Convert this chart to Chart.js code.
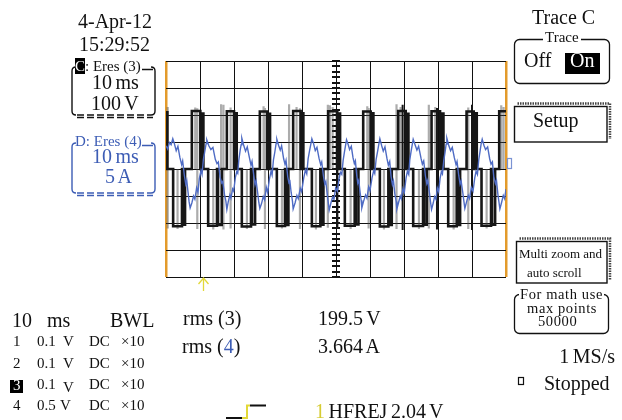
<!DOCTYPE html>
<html>
<head>
<meta charset="utf-8">
<script src="https://cdn.jsdelivr.net/npm/chart.js@4.4.1/dist/chart.umd.min.js"></script>
<style>
html, body { margin: 0; padding: 0; background: #fff; }
#wrap { position: relative; width: 622px; height: 420px; overflow: hidden; font-family: 'Liberation Serif', serif; color: #111; }
#scope { position: absolute; left: 0; top: 0; }
.t { position: absolute; white-space: nowrap; line-height: 1; font-size: 20px; }
.s { font-size: 15px; }
.m { font-size: 14.5px; letter-spacing: 0.6px; }
.blue { color: #3d5db5; }
.inv { background: #000; color: #fff; }
.ws { word-spacing: -1.5px; }
</style>
</head>
<body>
<div id="wrap">
  <canvas id="scope" width="622" height="420"></canvas>

  <div class="t" style="left:78px;top:11px">4-Apr-12</div>
  <div class="t" style="left:79px;top:34px">15:29:52</div>

  <div class="t s" style="left:75px;top:59px"><span class="inv">C</span>: Eres (3)</div>
  <div class="t ws" style="left:92px;top:72px">10 ms</div>
  <div class="t ws" style="left:91px;top:93px">100 V</div>

  <div class="t s blue" style="left:75px;top:134px">D: Eres (4)</div>
  <div class="t ws blue" style="left:92px;top:146px">10 ms</div>
  <div class="t ws blue" style="left:105px;top:166px">5 A</div>

  <div class="t" style="left:532px;top:7px">Trace C</div>
  <div class="t s" style="left:543px;top:30px;background:#fff;padding:0 2px">Trace</div>
  <div class="t" style="left:524px;top:50px">Off</div>
  <div style="position:absolute;left:565px;top:53px;width:35px;height:21px;background:#000"></div>
  <div class="t" style="left:570px;top:50px;color:#fff">On</div>
  <div class="t" style="left:533px;top:110px">Setup</div>
  <div class="t" style="left:519px;top:247px;font-size:13px">Multi zoom and</div>
  <div class="t" style="left:527px;top:266px;font-size:13px">auto scroll</div>
  <div class="t m" style="left:519px;top:287px;background:#fff;padding:0 1px">For math use</div>
  <div class="t m" style="left:527px;top:301px">max points</div>
  <div class="t m" style="left:538px;top:314px">50000</div>
  <div class="t ws" style="right:7px;top:346px">1 MS/s</div>
  <div class="t" style="left:544px;top:373px">Stopped</div>

  <div class="t" style="left:12px;top:310px">10</div>
  <div class="t" style="left:47px;top:310px">ms</div>
  <div class="t" style="left:110px;top:310px">BWL</div>

  <div class="t s" style="left:13px;top:334px">1</div>
  <div class="t s" style="left:37px;top:334px">0.1</div>
  <div class="t s" style="left:63px;top:334px">V</div>
  <div class="t s" style="left:89px;top:334px">DC</div>
  <div class="t s" style="left:121px;top:334px">×10</div>

  <div class="t s" style="left:13px;top:356px">2</div>
  <div class="t s" style="left:37px;top:356px">0.1</div>
  <div class="t s" style="left:63px;top:356px">V</div>
  <div class="t s" style="left:89px;top:356px">DC</div>
  <div class="t s" style="left:121px;top:356px">×10</div>

  <div style="position:absolute;left:10px;top:380px;width:13px;height:13px;background:#000"></div>
  <div class="t s" style="left:13px;top:378px;color:#fff">3</div>
  <div class="t s" style="left:37px;top:377px">0.1</div>
  <div class="t s" style="left:63px;top:380px">V</div>
  <div class="t s" style="left:89px;top:377px">DC</div>
  <div class="t s" style="left:121px;top:377px">×10</div>

  <div class="t s" style="left:13px;top:398px">4</div>
  <div class="t s" style="left:37px;top:398px">0.5</div>
  <div class="t s" style="left:60px;top:398px">V</div>
  <div class="t s" style="left:89px;top:398px">DC</div>
  <div class="t s" style="left:121px;top:398px">×10</div>

  <div class="t" style="left:183px;top:308px">rms (3)</div>
  <div class="t" style="left:182px;top:336px">rms (<span class="blue">4</span>)</div>
  <div class="t ws" style="left:318px;top:308px">199.5 V</div>
  <div class="t ws" style="left:318px;top:336px">3.664 A</div>
  <div class="t ws" style="left:315px;top:401px"><span style="color:#d6cc34">1</span> HFREJ 2.04 V</div>
</div>

<script>
// channel 3 (voltage, V) - level changes, held until next point
var voltTime = [0, 0.4,
  2.1, 4.7, 5.0, 5.6, 7.6, 10.1, 10.4, 11.0,
  12.4, 15.0, 15.3, 16.4, 17.9, 20.0, 20.3, 20.8,
  22.3, 25.0, 25.3, 26.2, 27.6, 29.8, 30.1, 30.6,
  32.6, 35.0, 35.3, 36.0, 37.4, 39.6, 39.9, 40.4,
  42.9, 45.4, 45.7, 46.3, 47.7, 50.3, 50.6, 51.2,
  52.6, 55.5, 55.8, 56.6, 58.0, 60.2, 60.5, 61.0,
  62.9, 65.4, 65.7, 66.4, 68.3, 70.5, 70.8, 71.3,
  72.7, 75.6, 75.9, 76.7, 78.1, 80.6, 80.9, 81.6,
  83.0, 85.5, 85.8, 86.5, 88.4, 90.5, 90.8, 91.4,
  92.8, 95.6, 95.9, 96.8, 98.0, 100];
var voltValue = [210, 0,
  -212, 0, -206, 0, 215, 0, 205, 0,
  -210, 0, -207, 0, 214, 0, 206, 0,
  -213, 0, -205, 0, 213, 0, 204, 0,
  -211, 0, -207, 0, 215, 0, 206, 0,
  -212, 0, -206, 0, 214, 0, 205, 0,
  -210, 0, -205, 0, 213, 0, 206, 0,
  -213, 0, -207, 0, 215, 0, 204, 0,
  -211, 0, -206, 0, 214, 0, 205, 0,
  -212, 0, -207, 0, 213, 0, 206, 0,
  -210, 0, -206, 0, 214, 212];

// faint overlapped switching edges (grey) and heavy edges (black)
var ghostTime   = [0.5, 3.4, 8.6, 9.2, 13.9, 16.2, 16.9, 19.0, 23.8, 28.7, 29.1, 34.1,
  36.2, 38.4, 39.4, 44.1, 47.6, 48.2, 49.0, 54.3, 59.2, 59.6, 64.1, 67.8, 69.0,
  74.4, 77.3, 79.2, 84.6, 88.9, 94.3, 98.6, 99.3];
var ghostTop    = [230, 0, 228, 225, 0, 240, 238, 228, 0, 232, 226, 0,
  240, 230, 225, 0, 238, 236, 230, 0, 232, 226, 0, 240, 230,
  0, 238, 230, 0, 228, 0, 236, 230];
var ghostBottom = [-220, -222, 0, -222, -224, 0, -224, -220, -222, 0, -222, -220,
  0, 0, -222, -224, -218, 0, 0, -222, 0, -220, -224, -222, 0,
  -222, -220, 0, -224, -222, -220, 0, 0];
var spikeTime   = [50.4, 69.6, 79.7, 90.0];
var spikeTop    = [220, 238, 226, 238];
var spikeBottom = [-222, -226, -224, -226];

// channel 4 (current, A)
var currentTime = [0, 0.5, 1.0, 1.5,
  2.0, 2.5, 3.0, 3.5, 4.1, 4.6, 4.9, 5.4, 5.8, 6.1, 6.5, 6.8, 7.1,
  7.6, 8.1, 8.5, 9.0, 9.4, 9.8, 10.3, 10.6, 11.0, 11.4, 11.8,
  12.0, 12.6, 13.2, 13.8, 14.5, 15.0, 15.4, 15.9, 16.4, 16.7, 17.2, 17.6, 17.9,
  18.3, 18.8, 19.1, 19.6, 19.9, 20.4, 20.8, 21.1, 21.4, 21.8, 22.1,
  22.3, 22.8, 23.4, 23.9, 24.5, 25.0, 25.3, 25.8, 26.2, 26.5, 27.0, 27.3, 27.6,
  28.1, 28.6, 29.0, 29.5, 29.9, 30.4, 30.9, 31.2, 31.6, 32.0, 32.4,
  32.6, 33.1, 33.6, 34.0, 34.6, 35.0, 35.3, 35.8, 36.2, 36.4, 36.8, 37.2, 37.4,
  38.0, 38.5, 38.9, 39.5, 39.9, 40.5, 41.0, 41.4, 41.8, 42.2, 42.6,
  42.9, 43.4, 43.9, 44.4, 45.0, 45.5, 45.8, 46.3, 46.7, 47.0, 47.4, 47.7, 48.0,
  48.5, 49.0, 49.4, 49.9, 50.4, 50.9, 51.3, 51.7, 52.1, 52.5, 52.9,
  53.1, 53.6, 54.0, 54.5, 55.0, 55.4, 55.7, 56.1, 56.4, 56.7, 57.1, 57.4, 57.6,
  58.1, 58.7, 59.1, 59.6, 60.0, 60.6, 61.1, 61.4, 61.8, 62.3, 62.6,
  62.9, 63.4, 63.9, 64.4, 65.0, 65.4, 65.8, 66.2, 66.6, 66.9, 67.3, 67.7, 67.9,
  68.4, 68.9, 69.2, 69.7, 70.1, 70.6, 71.0, 71.4, 71.7, 72.1, 72.5,
  72.7, 73.2, 73.8, 74.3, 75.0, 75.4, 75.8, 76.3, 76.7, 77.0, 77.5, 77.8, 78.1,
  78.6, 79.0, 79.4, 79.8, 80.2, 80.6, 81.0, 81.3, 81.7, 82.1, 82.4,
  82.6, 83.1, 83.7, 84.2, 84.8, 85.3, 85.6, 86.1, 86.5, 86.8, 87.3, 87.6, 87.9,
  88.4, 88.9, 89.3, 89.8, 90.3, 90.8, 91.2, 91.6, 92.0, 92.4, 92.7,
  93.0, 93.5, 94.0, 94.6, 95.2, 95.6, 96.0, 96.4, 96.9, 97.2, 97.6, 97.9, 98.2,
  98.7, 99.2, 99.6, 100];
var currentAmps = [4.3, 3.7, 4.9, 4.5,
  5.6, 4.6, 3.4, 4.2, 2.1, 0.8, 1.5, -1.2, -2.8, -2.1, -4.4, -6.1, -7.2,
  -6.3, -5.0, -5.6, -3.5, -4.3, -1.8, -0.3, -1.0, 1.8, 3.2, 4.7,
  5.4, 4.3, 3.6, 4.0, 1.8, 1.0, 1.3, -1.5, -2.6, -2.3, -4.7, -5.9, -7.5,
  -6.1, -4.8, -5.4, -3.7, -4.1, -1.6, -0.5, -0.8, 1.6, 3.4, 4.5,
  5.7, 4.5, 3.3, 4.1, 2.2, 0.7, 1.4, -1.1, -2.9, -2.2, -4.6, -6.2, -7.3,
  -6.4, -5.1, -5.7, -3.4, -4.4, -1.9, -0.4, -1.1, 1.7, 3.1, 4.8,
  5.5, 4.4, 3.5, 4.3, 1.9, 0.9, 1.6, -1.4, -2.7, -2.0, -4.3, -6.0, -7.4,
  -6.2, -4.9, -5.5, -3.6, -4.2, -1.7, -0.2, -0.9, 1.9, 3.3, 4.6,
  5.6, 4.7, 3.4, 4.0, 2.0, 0.8, 1.3, -1.3, -2.8, -2.3, -4.5, -6.1, -7.6,
  -6.3, -5.2, -5.6, -3.5, -4.1, -1.8, -0.6, -1.0, 1.6, 3.2, 4.7,
  5.4, 4.5, 3.6, 4.2, 2.1, 1.0, 1.5, -1.2, -2.6, -2.1, -4.4, -5.8, -7.2,
  -6.0, -4.8, -5.4, -3.3, -4.0, -1.6, -0.3, -0.8, 1.8, 3.5, 4.6,
  5.6, 4.4, 3.3, 4.1, 1.9, 0.7, 1.4, -1.4, -2.9, -2.2, -4.6, -6.0, -7.4,
  -6.2, -5.0, -5.5, -3.6, -4.3, -1.7, -0.4, -1.0, 1.7, 3.3, 4.8,
  5.5, 4.6, 3.5, 4.2, 2.0, 0.9, 1.5, -1.3, -2.7, -2.1, -4.5, -6.1, -7.5,
  -6.3, -5.1, -5.6, -3.5, -4.2, -1.8, -0.5, -0.9, 1.6, 3.2, 4.6,
  5.7, 4.5, 3.4, 4.0, 2.1, 0.8, 1.4, -1.2, -2.8, -2.2, -4.4, -5.9, -7.3,
  -6.1, -4.9, -5.5, -3.4, -4.1, -1.7, -0.4, -1.0, 1.8, 3.4, 4.7,
  5.5, 4.4, 3.6, 4.1, 1.9, 0.9, 1.3, -1.4, -2.7, -2.1, -4.6, -6.0, -7.4,
  -6.2, -4.9, -5.5, -3.7];

var triggerTime = 10.9;
var orange = '#e39b2c';

function xy(ts, vs) {
  return ts.map(function(t, i) { return {x: t, y: vs[i]}; });
}
function bars(ts, tops, bottoms) {
  var out = [];
  ts.forEach(function(t, i) {
    out.push({x: t, y: tops[i]}, {x: t, y: bottoms[i]}, {x: t, y: null});
  });
  return out;
}

// graticule minor ticks, panels and small markers
var decor = {
  id: 'decor',
  beforeDatasetsDraw: function(chart) {
    var ctx = chart.ctx, x = chart.scales.x, y = chart.scales.y;
    var cx = Math.round(x.getPixelForValue(50));
    ctx.save();
    ctx.strokeStyle = '#111';
    ctx.lineWidth = 2;
    for (var v = y.min; v <= y.max; v += 20) {
      var py = Math.round(y.getPixelForValue(v));
      ctx.beginPath(); ctx.moveTo(cx - 4, py); ctx.lineTo(cx + 4, py); ctx.stroke();
    }
    ctx.restore();
  },
  afterDraw: function(chart) {
    var ctx = chart.ctx, x = chart.scales.x, area = chart.chartArea;
    ctx.save();

    // trigger position arrow
    var tx = Math.round(x.getPixelForValue(triggerTime)) + 0.5;
    ctx.strokeStyle = '#e2d838';
    ctx.lineWidth = 1.3;
    ctx.beginPath();
    ctx.moveTo(tx - 5, area.bottom + 7); ctx.lineTo(tx, area.bottom + 1); ctx.lineTo(tx + 5, area.bottom + 7);
    ctx.moveTo(tx, area.bottom + 1); ctx.lineTo(tx, area.bottom + 14);
    ctx.stroke();

    // blue channel marker on right edge
    ctx.strokeStyle = '#7b93d3';
    ctx.lineWidth = 1.2;
    ctx.strokeRect(507.5, 158.5, 4, 10);

    channelBox(ctx, '#111', 67, 116);
    channelBox(ctx, '#3d5db5', 143, 194);

    ctx.strokeStyle = '#111';
    ctx.lineWidth = 1.3;
    ctx.setLineDash([]);
    ctx.beginPath(); ctx.roundRect(514.5, 39.5, 95, 44, 5); ctx.stroke();
    ctx.beginPath(); ctx.roundRect(514.5, 294.5, 94, 39, 5); ctx.stroke();
    button(ctx, 514.5, 106.5, 607, 142);
    button(ctx, 516.5, 241.5, 607, 283);

    // stopped indicator
    ctx.lineWidth = 1.2;
    ctx.strokeRect(518.5, 377.5, 5, 7);

    // trigger slope symbol
    ctx.lineWidth = 2;
    ctx.strokeStyle = '#111';
    ctx.beginPath(); ctx.moveTo(226, 418); ctx.lineTo(242, 418); ctx.moveTo(250, 405.5); ctx.lineTo(266, 405.5); ctx.stroke();
    ctx.strokeStyle = '#e2d838';
    ctx.beginPath(); ctx.moveTo(242, 418); ctx.lineTo(247, 418); ctx.lineTo(247, 405.5); ctx.lineTo(250, 405.5); ctx.stroke();
    ctx.restore();
  }
};

function channelBox(ctx, color, top, bottom) {
  ctx.save();
  ctx.strokeStyle = color;
  ctx.lineWidth = 1.4;
  ctx.beginPath();
  ctx.moveTo(76, top); ctx.quadraticCurveTo(72, top, 72, top + 4);
  ctx.lineTo(72, bottom - 5); ctx.quadraticCurveTo(72, bottom - 1, 76, bottom - 1);
  ctx.moveTo(151, top); ctx.quadraticCurveTo(155, top, 155, top + 4);
  ctx.lineTo(155, bottom - 5); ctx.quadraticCurveTo(155, bottom - 1, 151, bottom - 1);
  ctx.moveTo(142, top + 2.5); ctx.lineTo(153, top + 2.5);
  ctx.stroke();
  ctx.setLineDash([7, 3]);
  ctx.beginPath();
  ctx.moveTo(77, bottom - 1); ctx.lineTo(151, bottom - 1);
  ctx.moveTo(77, bottom + 1.5); ctx.lineTo(153, bottom + 1.5);
  ctx.stroke();
  ctx.restore();
}

function button(ctx, l, t, r, b) {
  ctx.save();
  ctx.strokeStyle = '#111';
  ctx.lineWidth = 1.4;
  ctx.strokeRect(l, t, r - l, b - t);
  ctx.strokeStyle = '#444';
  ctx.lineWidth = 2.5;
  ctx.setLineDash([1.5, 1]);
  ctx.beginPath();
  ctx.moveTo(l + 3, t - 3); ctx.lineTo(r + 3, t - 3); ctx.lineTo(r + 3, b - 3);
  ctx.stroke();
  ctx.restore();
}

function isEdge(c) {
  return c.tick && (c.tick.value === 0 || c.tick.value === 100);
}

new Chart(document.getElementById('scope'), {
  type: 'line',
  data: {
    datasets: [
      { label: 'Eres (4)', data: xy(currentTime, currentAmps), yAxisID: 'yA',
        borderColor: '#4e6bc4', borderWidth: 1.4, pointRadius: 0, tension: 0, order: 0 },
      { label: 'Eres (3)', data: xy(voltTime, voltValue), stepped: true,
        borderColor: '#161616', borderWidth: 2.6, pointRadius: 0, order: 1 },
      { label: 'edges', data: bars(spikeTime, spikeTop, spikeBottom),
        borderColor: '#161616', borderWidth: 2, pointRadius: 0, order: 2 },
      { label: 'ghost', data: bars(ghostTime, ghostTop, ghostBottom),
        borderColor: 'rgba(70,70,70,0.45)', borderWidth: 2.2, pointRadius: 0, order: 3 }
    ]
  },
  options: {
    responsive: false,
    animation: false,
    devicePixelRatio: 1,
    layout: { padding: { left: 166, right: 116, top: 61, bottom: 143 } },
    plugins: { legend: { display: false }, tooltip: { enabled: false } },
    scales: {
      x: {
        type: 'linear', min: 0, max: 100,
        ticks: { display: false, stepSize: 10 },
        grid: {
          drawTicks: false, z: -1,
          color: function(c) { return isEdge(c) ? orange : '#111'; },
          lineWidth: function(c) { return isEdge(c) ? 2.5 : 1; }
        },
        border: { display: false }
      },
      y: {
        min: -400, max: 400,
        ticks: { display: false, stepSize: 100 },
        grid: { drawTicks: false, color: '#111' },
        border: { display: false }
      },
      yA: { min: -20, max: 20, display: false }
    }
  },
  plugins: [decor]
});
</script>
</body>
</html>
